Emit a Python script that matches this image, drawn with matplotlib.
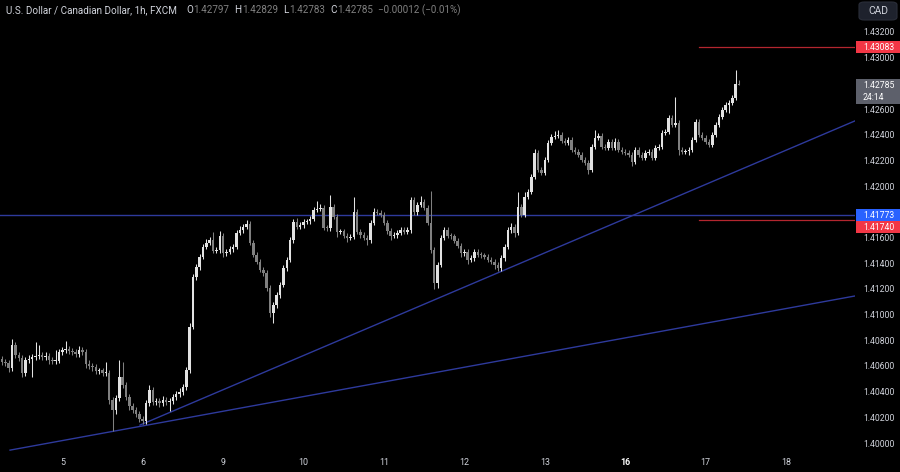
import matplotlib
matplotlib.use("Agg")
import matplotlib.pyplot as plt
from matplotlib.patches import Rectangle, FancyBboxPatch
import numpy as np

# ---------------- data ----------------
title = "U.S. Dollar / Canadian Dollar, 1h, FXCM"
ohlc_letters = ["O", "H", "L", "C"]
ohlc_values = ["1.42797", "1.42829", "1.42783", "1.42785"]
change_text = "\u22120.00012 (\u22120.01%)"

first_open = 1.40655
closes = [
    # day 4 (partial)
    1.40631, 1.40623, 1.40584, 1.40763, 1.40686, 1.40662, 1.40545, 1.40647, 1.40654, 1.40670,
    1.40678, 1.40686, 1.40670, 1.40678, 1.40647, 1.40639, 1.40641, 1.40709,
    # day 5
    1.40724, 1.40732, 1.40717, 1.40709, 1.40693, 1.40724, 1.40709, 1.40615, 1.40600, 1.40592,
    1.40561, 1.40565, 1.40545, 1.40548, 1.40335, 1.40257, 1.40351, 1.40514, 1.40452, 1.40358,
    1.40288, 1.40257, 1.40226, 1.40187,
    # day 6
    1.40171, 1.40312, 1.40413, 1.40319, 1.40327, 1.40312, 1.40335, 1.40319, 1.40327, 1.40358,
    1.40382, 1.40397, 1.40436, 1.40569, 1.40904, 1.41293, 1.41371, 1.41449, 1.41527, 1.41558,
    1.41581, 1.41496, 1.41503, 1.41613,
    # day 9
    1.41480, 1.41488, 1.41511, 1.41527, 1.41636, 1.41659, 1.41683, 1.41706, 1.41558, 1.41465,
    1.41410, 1.41348, 1.41324, 1.41207, 1.41013, 1.41075, 1.41153, 1.41231, 1.41363, 1.41426,
    1.41581, 1.41722, 1.41683, 1.41698,
    # day 10
    1.41722, 1.41725, 1.41745, 1.41815, 1.41823, 1.41831, 1.41675, 1.41672, 1.41838, 1.41761,
    1.41644, 1.41648, 1.41613, 1.41597, 1.41605, 1.41799, 1.41644, 1.41620, 1.41597, 1.41581,
    1.41714, 1.41799, 1.41792, 1.41776,
    # day 11
    1.41714, 1.41651, 1.41613, 1.41620, 1.41636, 1.41659, 1.41644, 1.41659, 1.41893, 1.41799,
    1.41854, 1.41877, 1.41831, 1.41714, 1.41503, 1.41246, 1.41387, 1.41597, 1.41659, 1.41613,
    1.41610, 1.41574, 1.41535, 1.41480,
    # day 12
    1.41488, 1.41426, 1.41441, 1.41488, 1.41465, 1.41462, 1.41449, 1.41426, 1.41410, 1.41387,
    1.41363, 1.41441, 1.41527, 1.41659, 1.41683, 1.41636, 1.41838, 1.41776, 1.41916, 1.41955,
    1.42072, 1.42259, 1.42127, 1.42103,
    # day 13
    1.42205, 1.42337, 1.42384, 1.42392, 1.42399, 1.42353, 1.42337, 1.42360, 1.42282, 1.42267,
    1.42244, 1.42205, 1.42181, 1.42127, 1.42306, 1.42376, 1.42392, 1.42306, 1.42298, 1.42345,
    1.42298, 1.42345, 1.42282, 1.42267,
    # day 16
    1.42259, 1.42244, 1.42189, 1.42282, 1.42244, 1.42220, 1.42259, 1.42267, 1.42220, 1.42298,
    1.42306, 1.42415, 1.42423, 1.42532, 1.42477, 1.42493, 1.42282, 1.42267, 1.42270, 1.42282,
    1.42360, 1.42501, 1.42399, 1.42376,
    # day 17 (partial)
    1.42345, 1.42321, 1.42399, 1.42477, 1.42540, 1.42594, 1.42633, 1.42649, 1.42688, 1.42797,
    1.42785,
]
upper_wick_pips = (
    [2, 2, 2, 5, 2, 2, 2, 2, 3, 2, 11, 8, 2, 3, 2, 2, 8, 2]
    + [2, 6, 2, 2, 2, 3, 2, 2, 3, 2, 2, 2, 2, 8, 2, 2, 2, 13, 12, 2, 2, 2, 2, 2]
    + [2, 2, 4, 2, 2, 2, 3, 2, 2, 2, 2, 3, 2, 2, 3, 2, 2, 2, 2, 3, 2, 6, 2, 4]
    + [2, 2, 2, 2, 2, 3, 2, 3, 2, 2, 2, 2, 2, 2, 2, 2, 2, 2, 2, 2, 2, 2, 3, 2]
    + [2, 2, 2, 2, 6, 3, 2, 2, 9, 2, 2, 2, 2, 2, 2, 12, 2, 2, 2, 2, 2, 3, 2, 2]
    + [2, 2, 2, 2, 2, 2, 2, 2, 2, 2, 2, 5, 2, 2, 25, 2, 2, 2, 2, 2, 2, 2, 2, 2]
    + [2, 2, 2, 2, 2, 2, 2, 2, 2, 2, 2, 2, 2, 2, 3, 2, 12, 2, 4, 2, 2, 3, 2, 2]
    + [2, 2, 2, 4, 4, 2, 2, 2, 2, 2, 2, 2, 2, 2, 2, 6, 2, 2, 2, 2, 2, 3, 2, 2]
    + [2, 2, 2, 2, 2, 2, 2, 2, 2, 2, 2, 2, 2, 2, 2, 20, 2, 2, 2, 2, 2, 2, 2, 2]
    + [2, 2, 2, 2, 2, 2, 2, 2, 2, 11, 3]
)
lower_wick_pips = (
    [2, 2, 3, 2, 2, 2, 3, 2, 2, 14, 2, 2, 2, 2, 3, 2, 2, 2]
    + [2, 2, 2, 2, 2, 2, 2, 3, 2, 3, 2, 2, 2, 2, 3, 16, 3, 2, 2, 2, 3, 2, 2, 2]
    + [2, 2, 2, 2, 2, 3, 2, 2, 7, 2, 2, 2, 2, 2, 2, 2, 2, 2, 2, 2, 2, 2, 2, 2]
    + [3, 2, 2, 2, 2, 2, 2, 2, 2, 2, 2, 2, 2, 2, 3, 8, 2, 2, 2, 2, 2, 2, 2, 2]
    + [2, 2, 2, 2, 2, 2, 2, 2, 2, 2, 4, 2, 2, 3, 2, 2, 2, 2, 2, 4, 2, 2, 2, 2]
    + [2, 2, 3, 2, 2, 2, 2, 2, 2, 2, 2, 2, 2, 2, 2, 5, 4, 2, 2, 2, 2, 2, 2, 3]
    + [2, 3, 2, 2, 2, 2, 2, 2, 2, 3, 2, 2, 2, 2, 2, 3, 2, 2, 2, 2, 2, 2, 2, 2]
    + [2, 2, 2, 2, 2, 2, 2, 2, 2, 2, 2, 2, 2, 3, 2, 2, 2, 2, 2, 2, 2, 2, 2, 2]
    + [2, 2, 3, 2, 2, 2, 2, 2, 2, 2, 2, 2, 2, 2, 2, 2, 4, 2, 2, 3, 2, 2, 2, 2]
    + [2, 2, 2, 2, 2, 2, 2, 6, 2, 2, 0]
)
day_labels = ["5", "6", "9", "10", "11", "12", "13", "16", "17", "18"]
day_start_index = [18, 42, 66, 90, 114, 138, 162, 186, 210, 234]
y_ticks = [1.40000, 1.40200, 1.40400, 1.40600, 1.40800, 1.41000, 1.41200, 1.41400,
           1.41600, 1.41800, 1.42000, 1.42200, 1.42400, 1.42600, 1.42800, 1.43000, 1.43200]
# tick labels hidden behind the price tags on the scale
covered_ticks = [1.41800, 1.42800]

support_level = 1.41773
red_levels = [1.43083, 1.41740]
red_line_start = 208
upper_trend_x = [41.2, 254.6]
upper_trend_y = [1.40140, 1.42508]
lower_trend_x = [2.4, 254.6]
lower_trend_y = [1.39945, 1.41145]
last_price = 1.42785
countdown = "24:14"
currency = "CAD"

# ---------------- style ----------------
BG = "#000000"
UP = "#e2e2e2"
DOWN = "#808080"
LINE_BLUE = "#2e3a9c"
RED_LINE = "#b3262f"
RED_TAG = "#f23645"
BLUE_TAG = "#2962ff"
GREY_TAG = "#5d606b"
TXT = "#d1d4dc"
FONT = ["Roboto", "DejaVu Sans"]
plt.rcParams["font.family"] = FONT

W, H = 900, 472
fig = plt.figure(figsize=(W / 100, H / 100), dpi=100, facecolor=BG)
ax = fig.add_axes([0, 17 / H, 855 / W, 455 / H])
ax.set_facecolor(BG)
for s in ax.spines.values():
    s.set_visible(False)

n = len(closes)
idx = np.arange(n)
c = np.array(closes)
o = np.concatenate([[first_open], c[:-1]])
pip = 0.0001
hi = np.maximum(o, c) + np.array(upper_wick_pips) * pip
lo = np.minimum(o, c) - np.array(lower_wick_pips) * pip
up = c >= o
cols = np.where(up, UP, DOWN)

ax.vlines(idx, lo, hi, colors=cols, linewidth=0.75, zorder=3)
body_bottom = np.minimum(o, c)
body_h = np.maximum(np.abs(c - o), 0.00007)
ax.bar(idx, body_h, bottom=body_bottom, width=0.74, color=cols, linewidth=0, zorder=4)

ax.set_xlim(-0.6, 254.6)
ax.set_ylim(1.39907, 1.43449)

# lines
ax.axhline(support_level, color=LINE_BLUE, linewidth=1.0, zorder=2)
for lv in red_levels:
    ax.plot([red_line_start, 254.6], [lv, lv], color=RED_LINE, linewidth=0.9, zorder=2)
ax.plot(upper_trend_x, upper_trend_y, color=LINE_BLUE, linewidth=1.0, zorder=2)
ax.plot(lower_trend_x, lower_trend_y, color=LINE_BLUE, linewidth=1.0, zorder=2)

# ticks
ax.yaxis.tick_right()
ax.set_yticks(y_ticks)
ax.set_yticklabels(["" if any(abs(v - cv) < 1e-9 for cv in covered_ticks) else f"{v:.5f}"
                    for v in y_ticks])
ax.tick_params(axis="y", length=0, pad=5.8, labelsize=6.2, labelcolor=TXT)
ax.set_xticks(day_start_index)
ax.set_xticklabels(day_labels)
ax.tick_params(axis="x", length=0, pad=2.5, labelsize=6.4, labelcolor=TXT)
for lab in ax.get_xticklabels():
    if lab.get_text() == "16":
        lab.set_fontweight("bold")
        lab.set_color("#ffffff")

# price tags on the right scale
def tag(price, lines, face, dy_px=0.0, top_offset=6.3):
    y_disp = ax.transData.transform((0, price))[1] + dy_px
    h = 12.6 * len(lines)
    top = y_disp + top_offset
    fig.patches.append(Rectangle((856 / W, (top - h) / H), 44 / W, h / H,
                                 transform=fig.transFigure, facecolor=face,
                                 edgecolor="none", zorder=10))
    for k, t in enumerate(lines):
        yc = top - 6.3 - 12.6 * k
        fig.text(863 / W, yc / H, t, color="#ffffff", fontsize=6.2,
                 va="center", ha="left", zorder=11)

tag(red_levels[0], [f"{red_levels[0]:.5f}"], RED_TAG)
tag(last_price, [f"{last_price:.5f}", countdown], GREY_TAG)
tag(support_level, [f"{support_level:.5f}"], BLUE_TAG)
tag(red_levels[1], [f"{red_levels[1]:.5f}"], RED_TAG, dy_px=-7.5)

# currency box
fig.patches.append(FancyBboxPatch((859 / W, (H - 20) / H), 38 / W, 18 / H,
                                  boxstyle="round,pad=0,rounding_size=0.006",
                                  transform=fig.transFigure, facecolor="#1e222d",
                                  edgecolor="#2a2e39", linewidth=0.8, zorder=10))
fig.text(878 / W, (H - 11) / H, currency, color=TXT, fontsize=7.4,
         ha="center", va="center", zorder=11)

# title line
FS_T = 7.1
t0 = fig.text(6 / W, (H - 10) / H, title, color=TXT, fontsize=FS_T, va="center", ha="left")
prev = t0
gap_first = 9 * 0.72
for k, (L, V) in enumerate(zip(ohlc_letters, ohlc_values)):
    g = gap_first if k == 0 else 5 * 0.72
    a1 = ax.annotate(L, xy=(1, 0.5), xycoords=prev, xytext=(g, 0), textcoords="offset points",
                     color=TXT, fontsize=FS_T, va="center", ha="left", annotation_clip=False)
    a2 = ax.annotate(V, xy=(1, 0.5), xycoords=a1, xytext=(0.5, 0), textcoords="offset points",
                     color=DOWN, fontsize=FS_T, va="center", ha="left", annotation_clip=False)
    prev = a2
ax.annotate(change_text, xy=(1, 0.5), xycoords=prev, xytext=(5 * 0.72, 0),
            textcoords="offset points", color=DOWN, fontsize=FS_T, va="center", ha="left",
            annotation_clip=False)

fig.savefig("out.png", dpi=100, facecolor=BG)
